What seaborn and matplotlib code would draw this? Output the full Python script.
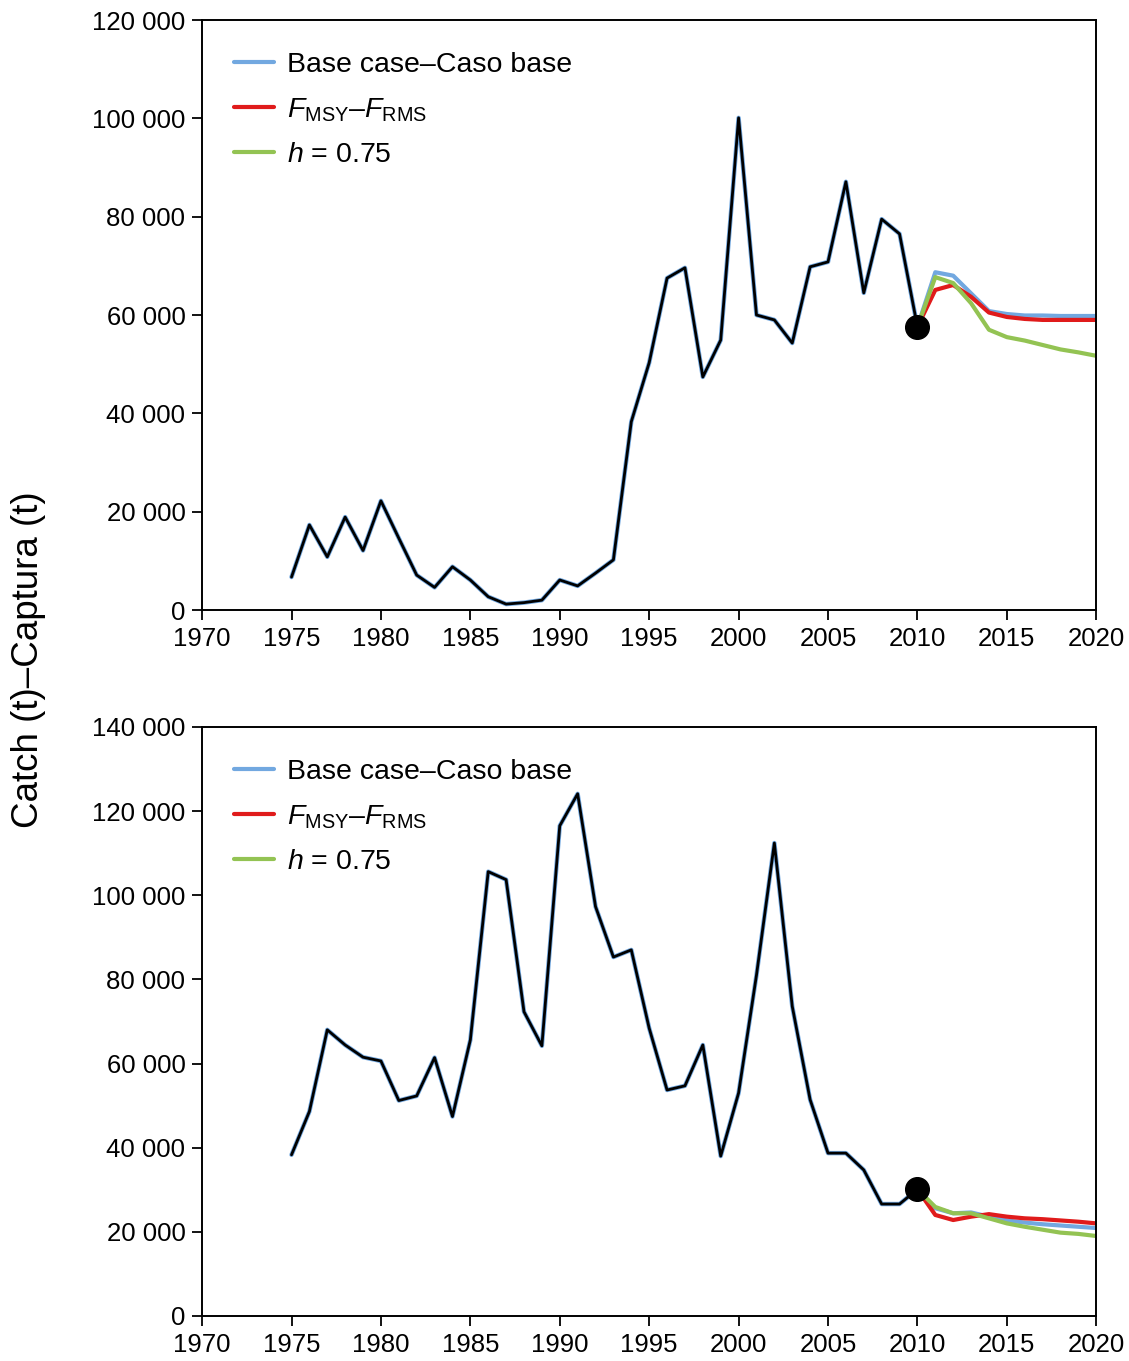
import numpy as np
import pandas as pd
import matplotlib
matplotlib.use("Agg")
import matplotlib.pyplot as plt
from matplotlib.ticker import FuncFormatter
import seaborn as sns

sns.set_style("ticks")
plt.rcParams['font.family'] = ['Liberation Sans', 'DejaVu Sans']
plt.rcParams['mathtext.fontset'] = 'custom'
plt.rcParams['mathtext.rm'] = 'Liberation Sans'
plt.rcParams['mathtext.it'] = 'Liberation Sans:italic'
plt.rcParams['text.color'] = 'black'

# historical catches, 1975-2010
hist_years = list(range(1975, 2011))
top_hist = [6700, 17300, 10800, 18900, 12100, 22200, 14600, 7100, 4600, 8800,
            6100, 2700, 1200, 1500, 2000, 6100, 4900, 7500, 10200, 38300,
            50300, 67500, 69600, 47400, 54900, 100100, 60000, 59000, 54300, 69800,
            70800, 87100, 64500, 79500, 76500, 57600]
bot_hist = [38300, 48600, 68000, 64400, 61500, 60600, 51200, 52300, 61400, 47400,
            65600, 105600, 103700, 72300, 64200, 116500, 124100, 97300, 85300, 87000,
            68400, 53700, 54700, 64400, 38000, 53000, 81000, 112400, 73600, 51400,
            38700, 38700, 34700, 26600, 26600, 30100]

# projections, 2010-2020
proj_years = list(range(2010, 2021))
top_base = [57600, 68700, 68000, 64400, 60800, 60200, 59900, 59900, 59800, 59800, 59800]
top_fmsy = [57600, 65100, 66100, 63700, 60500, 59600, 59200, 59000, 59000, 59000, 59000]
top_h075 = [57600, 67700, 66500, 62400, 57000, 55500, 54800, 53900, 53000, 52400, 51700]
bot_base = [30100, 25600, 24400, 24600, 23600, 22700, 22200, 21800, 21500, 21200, 20900]
bot_fmsy = [30100, 24000, 22800, 23600, 24200, 23600, 23200, 23000, 22700, 22400, 22000]
bot_h075 = [30100, 25900, 24400, 24400, 23200, 22000, 21200, 20500, 19800, 19500, 19000]

labels = ["Base case\u2013Caso base",
          r"$F_{\mathrm{MSY}}$" + "\u2013" + r"$F_{\mathrm{RMS}}$",
          r"$h$ = 0.75"]
colors = ["#72a8e0", "#e01b1b", "#93c353"]

fig = plt.figure(figsize=(11.29, 13.61), dpi=100)
ax1 = fig.add_axes([0.179, 0.5518, 0.792, 0.4335])
ax2 = fig.add_axes([0.179, 0.0331, 0.792, 0.4328])

fmt = FuncFormatter(lambda v, p: f"{int(v):,}".replace(",", " "))

panels = [(ax1, top_hist, [top_base, top_fmsy, top_h075], 120000),
          (ax2, bot_hist, [bot_base, bot_fmsy, bot_h075], 140000)]

for ax, hist, projs, ymax in panels:
    # blue base case sits under the black historical line
    sns.lineplot(x=hist_years, y=hist, ax=ax, color=colors[0], lw=3.2)
    for vals, lab, c in zip(projs, labels, colors):
        sns.lineplot(x=proj_years, y=vals, ax=ax, color=c, lw=3.0, label=lab)
    sns.lineplot(x=hist_years, y=hist, ax=ax, color="black", lw=2.0)
    ax.scatter([hist_years[-1]], [hist[-1]], s=290, color="black", zorder=5)

    ax.set_xlim(1970, 2020)
    ax.set_ylim(0, ymax)
    ax.set_xticks(range(1970, 2021, 5))
    ax.set_yticks(range(0, ymax + 1, 20000))
    ax.yaxis.set_major_formatter(fmt)
    ax.tick_params(labelsize=18.5, length=7, width=1.3, direction="out",
                   colors="black", pad=5)
    for s in ax.spines.values():
        s.set_linewidth(1.4)
        s.set_color("black")
    ax.set_xlabel("")
    ax.set_ylabel("")
    leg = ax.legend(loc="upper left", frameon=False, fontsize=20.5,
                    handlelength=1.4, handletextpad=0.45,
                    borderaxespad=0.72, borderpad=0.4, labelspacing=0.65)
    for h in leg.get_lines():
        h.set_linewidth(3)

fig.text(0.025, 0.515, "Catch (t)\u2013Captura (t)", rotation=90,
         fontsize=26.5, va="center", ha="center")

fig.savefig("out.png", dpi=100)
